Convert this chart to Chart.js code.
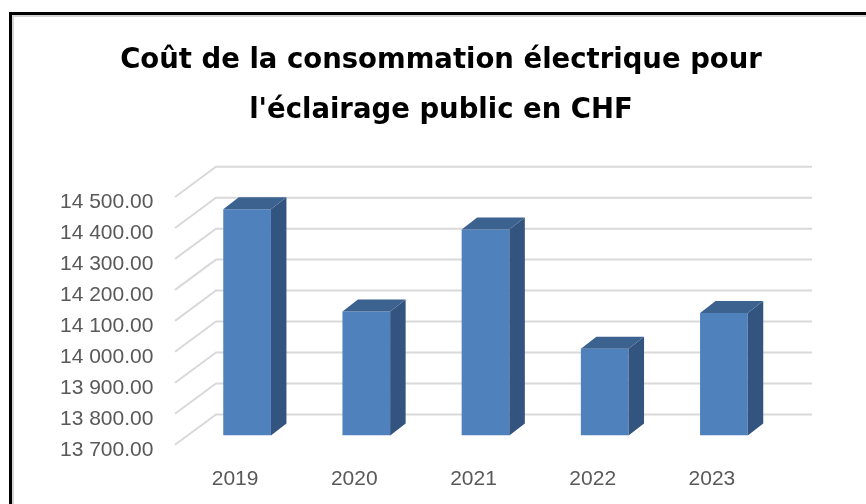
<!DOCTYPE html>
<html lang="fr">
<head>
<meta charset="utf-8">
<title>Coût de la consommation électrique</title>
<script src="https://cdn.jsdelivr.net/npm/chart.js@4.4.1/dist/chart.umd.min.js"></script>
<style>
    html, body { margin: 0; padding: 0; background: #fff; overflow: hidden; }
    #cadre {
        position: absolute; left: 9px; top: 12px;
        width: 1000px; height: 1000px;
        border-left: 3px solid #000; border-top: 3px solid #000;
        box-shadow: inset 2px 2px 0 #d4d4d4;
    }
    /* un peu plus haut que la fenêtre : le bas de l'axe x sort du cadre */
    #zone { position: absolute; left: 0; top: 0; width: 866px; height: 524px; }
</style>
</head>
<body>
<div id="cadre"></div>
<div id="zone"><canvas id="graficaCout"></canvas></div>
<script>
// Données
const annees = ['2019', '2020', '2021', '2022', '2023'];
const couts = [14430, 14100, 14365, 13980, 14095];
const ticksY = [13700, 13800, 13900, 14000, 14100, 14200, 14300, 14400, 14500];

// format "14 500.00"
function formatCHF(v) {
    const [ent, dec] = Number(v).toFixed(2).split('.');
    return ent.replace(/\B(?=(\d{3})+(?!\d))/g, ' ') + '.' + dec;
}

// Grille en perspective (mur du fond + mur gauche)
const grille3D = {
    id: 'grille3D',
    beforeDatasetsDraw(chart) {
        const { ctx, chartArea, scales: { y } } = chart;
        ctx.save();
        ctx.strokeStyle = '#D9D9D9';
        ctx.lineWidth = 2;
        y.ticks.forEach(t => {
            const py = y.getPixelForValue(t.value);
            ctx.beginPath();
            ctx.moveTo(chartArea.left - 12.5, py + 9.3);
            ctx.lineTo(chartArea.left + 28.5, py - 21);
            ctx.lineTo(chartArea.right + 28.5, py - 21);
            ctx.stroke();
        });
        ctx.restore();
    }
};

// Faces latérale et supérieure des barres
const barres3D = {
    id: 'barres3D',
    afterDatasetsDraw(chart) {
        const { ctx } = chart;
        const dx = 15.5, dy = 12;
        chart.getDatasetMeta(0).data.forEach(bar => {
            const { x, y, base, width } = bar.getProps(['x', 'y', 'base', 'width'], true);
            const g = x - width / 2, d = x + width / 2;
            ctx.save();
            // côté
            ctx.fillStyle = '#33547F';
            ctx.beginPath();
            ctx.moveTo(d, y);
            ctx.lineTo(d + dx, y - dy);
            ctx.lineTo(d + dx, base - dy);
            ctx.lineTo(d, base);
            ctx.closePath();
            ctx.fill();
            // dessus
            ctx.fillStyle = '#3C6290';
            ctx.beginPath();
            ctx.moveTo(g, y);
            ctx.lineTo(g + dx, y - dy);
            ctx.lineTo(d + dx, y - dy);
            ctx.lineTo(d, y);
            ctx.closePath();
            ctx.fill();
            ctx.restore();
        });
    }
};

const ctx = document.getElementById('graficaCout').getContext('2d');
new Chart(ctx, {
    type: 'bar',
    data: {
        labels: annees,
        datasets: [{
            label: 'Coût CHF',
            data: couts,
            base: ticksY[0],
            backgroundColor: '#4F81BD',
            borderWidth: 0,
            barPercentage: 1,
            categoryPercentage: 0.4
        }]
    },
    options: {
        responsive: true,
        maintainAspectRatio: false,
        animation: false,
        layout: { padding: { left: 60, right: 44, top: 0, bottom: 0 } },
        plugins: {
            legend: { display: false },
            tooltip: { enabled: false },
            title: {
                display: true,
                text: ['Coût de la consommation électrique pour', "l'éclairage public en CHF"],
                color: '#000',
                font: { family: 'DejaVu Sans', size: 27.5, weight: 'bold', lineHeight: 50 / 27.5 },
                padding: { top: 36, bottom: 51.7 }
            }
        },
        scales: {
            x: {
                grid: { display: false, drawTicks: false },
                border: { display: false },
                ticks: {
                    color: '#595959',
                    font: { family: 'Liberation Sans', size: 21 },
                    padding: 31.7,
                    labelOffset: -12
                }
            },
            y: {
                min: ticksY[0],
                max: ticksY[ticksY.length - 1],
                grid: { display: false, drawTicks: false },
                border: { display: false },
                afterFit(scale) { scale.width = 127.5; },
                afterBuildTicks(scale) { scale.ticks = ticksY.map(v => ({ value: v })); },
                ticks: {
                    color: '#595959',
                    font: { family: 'Liberation Sans', size: 21 },
                    padding: 0,
                    crossAlign: 'far',
                    autoSkip: false,
                    labelOffset: 15,
                    callback: v => formatCHF(v)
                }
            },
            y2: {
                position: 'right',
                grid: { display: false, drawTicks: false },
                border: { display: false },
                ticks: { display: false },
                afterFit(scale) { scale.width = 38.5; }
            }
        }
    },
    plugins: [grille3D, barres3D]
});
</script>
</body>
</html>
